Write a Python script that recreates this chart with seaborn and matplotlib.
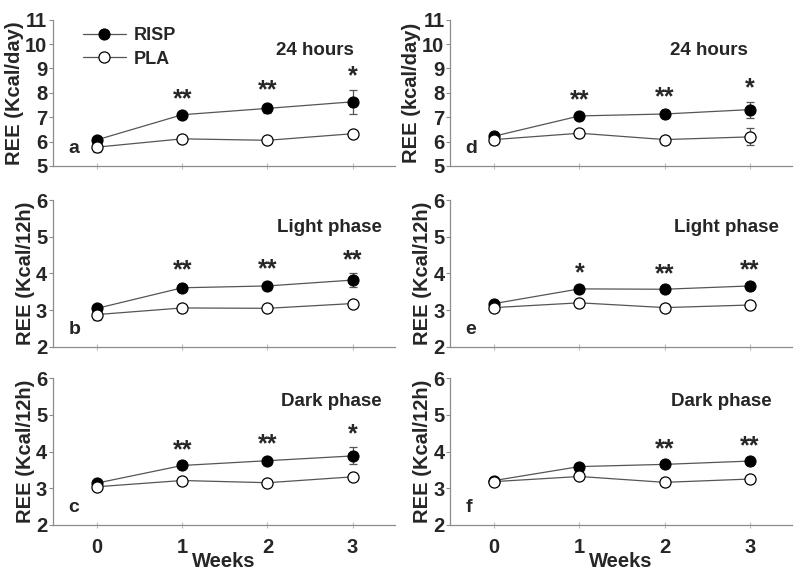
import numpy as np
import pandas as pd
import matplotlib
matplotlib.use("Agg")
import matplotlib.pyplot as plt
import seaborn as sns

# Data
weeks = [0, 1, 2, 3]

a_risp = [6.07, 7.10, 7.36, 7.63]
a_risp_err = [0.10, 0.10, 0.20, 0.48]
a_pla = [5.77, 6.11, 6.05, 6.32]
a_pla_err = [0.22, 0.08, 0.08, 0.08]
a_stars = ["", "**", "**", "*"]

b_risp = [3.05, 3.61, 3.66, 3.82]
b_risp_err = [0.05, 0.10, 0.10, 0.18]
b_pla = [2.88, 3.06, 3.05, 3.18]
b_pla_err = [0.14, 0.05, 0.05, 0.05]
b_stars = ["", "**", "**", "**"]

c_risp = [3.14, 3.62, 3.75, 3.88]
c_risp_err = [0.05, 0.05, 0.07, 0.23]
c_pla = [3.04, 3.21, 3.15, 3.31]
c_pla_err = [0.05, 0.05, 0.05, 0.05]
c_stars = ["", "**", "**", "*"]

d_risp = [6.22, 7.05, 7.13, 7.31]
d_risp_err = [0.10, 0.10, 0.15, 0.33]
d_pla = [6.08, 6.34, 6.08, 6.19]
d_pla_err = [0.10, 0.10, 0.10, 0.35]
d_stars = ["", "**", "**", "*"]

e_risp = [3.18, 3.58, 3.57, 3.66]
e_risp_err = [0.05, 0.05, 0.05, 0.05]
e_pla = [3.07, 3.20, 3.07, 3.14]
e_pla_err = [0.06, 0.05, 0.05, 0.05]
e_stars = ["", "*", "**", "**"]

f_risp = [3.21, 3.59, 3.65, 3.74]
f_risp_err = [0.05, 0.05, 0.05, 0.05]
f_pla = [3.18, 3.32, 3.16, 3.25]
f_pla_err = [0.05, 0.05, 0.05, 0.05]
f_stars = ["", "", "**", "**"]

panels = [
    # letter, risp, risp_err, pla, pla_err, stars, title, ylabel, ylim, col, row
    ("a", a_risp, a_risp_err, a_pla, a_pla_err, a_stars, "24 hours", "REE (Kcal/day)", (5, 11), 0, 0),
    ("b", b_risp, b_risp_err, b_pla, b_pla_err, b_stars, "Light phase", "REE (Kcal/12h)", (2, 6), 0, 1),
    ("c", c_risp, c_risp_err, c_pla, c_pla_err, c_stars, "Dark phase", "REE (Kcal/12h)", (2, 6), 0, 2),
    ("d", d_risp, d_risp_err, d_pla, d_pla_err, d_stars, "24 hours", "REE (kcal/day)", (5, 11), 1, 0),
    ("e", e_risp, e_risp_err, e_pla, e_pla_err, e_stars, "Light phase", "REE (Kcal/12h)", (2, 6), 1, 1),
    ("f", f_risp, f_risp_err, f_pla, f_pla_err, f_stars, "Dark phase", "REE (Kcal/12h)", (2, 6), 1, 2),
]

sns.set_style("white")
plt.rcParams['font.family'] = ['Liberation Sans', 'DejaVu Sans']
plt.rcParams['font.weight'] = 'bold'

fig = plt.figure(figsize=(8, 5.8), dpi=100)

col_x = [(0.066, 0.428), (0.5625, 0.428)]
row_y = [(0.714, 0.252), (0.402, 0.253), (0.095, 0.253)]
title_x = {(0, 0): 0.88, (0, 1): 0.96, (0, 2): 0.96, (1, 0): 0.87, (1, 1): 0.96, (1, 2): 0.94}
title_y = {0: 0.79, 1: 0.81, 2: 0.84}

spine_col = "#8c8c8c"
line_col = "#555555"

for letter, risp, risp_err, pla, pla_err, stars, title, ylabel, ylim, col, row in panels:
    x0, w = col_x[col]
    y0, h = row_y[row]
    ax = fig.add_axes([x0, y0, w, h])

    df = pd.DataFrame({"week": weeks, "RISP": risp, "PLA": pla})

    ax.errorbar(weeks, risp, yerr=risp_err, fmt="none", ecolor=line_col,
                elinewidth=0.9, capsize=3, capthick=0.9, zorder=2)
    ax.errorbar(weeks, pla, yerr=pla_err, fmt="none", ecolor=line_col,
                elinewidth=0.9, capsize=3, capthick=0.9, zorder=2)
    sns.lineplot(data=df, x="week", y="RISP", ax=ax, color=line_col, lw=0.9,
                 marker="o", markersize=8, markerfacecolor="black",
                 markeredgecolor="black", label="RISP", zorder=3)
    sns.lineplot(data=df, x="week", y="PLA", ax=ax, color=line_col, lw=0.9,
                 marker="o", markersize=8, markerfacecolor="white",
                 markeredgecolor="black", markeredgewidth=0.9, label="PLA", zorder=4)

    for xi, (m, e, s) in enumerate(zip(risp, risp_err, stars)):
        if s:
            ax.annotate(s, (weeks[xi], m + e), xytext=(0, 1), textcoords="offset points",
                        ha="center", va="bottom", fontsize=18, fontweight="bold")

    ax.set_xlim(-0.52, 3.5)
    ax.set_ylim(*ylim)
    ax.set_yticks(np.arange(ylim[0], ylim[1] + 1))
    ax.set_xticks(weeks)
    ax.tick_params(axis="y", direction="out", length=3, color=spine_col,
                   labelsize=14.5, pad=1, left=True)
    ax.tick_params(axis="x", direction="inout", length=5, color="#bbbbbb",
                   labelsize=14.5, bottom=True, width=0.8, pad=7)
    for lab in ax.get_yticklabels() + ax.get_xticklabels():
        lab.set_fontweight("bold")

    sns.despine(ax=ax)
    for sp in ("left", "bottom"):
        ax.spines[sp].set_color(spine_col)
        ax.spines[sp].set_linewidth(0.9)

    ax.set_ylabel(ylabel, fontsize=14.5, fontweight="bold", labelpad=1)
    if row == 2:
        ax.set_xlabel("Weeks", fontsize=14.5, fontweight="bold", labelpad=-4)
    else:
        ax.set_xlabel("")
        ax.set_xticklabels([])

    ax.text(title_x[(col, row)], title_y[row], title, transform=ax.transAxes,
            ha="right", va="center", fontsize=13.5, fontweight="bold")
    ax.text(0.045, 0.12, letter, transform=ax.transAxes, ha="left", va="center",
            fontsize=14, fontweight="bold")

    if letter == "a":
        ax.legend(loc="upper left", bbox_to_anchor=(0.04, 1.06), frameon=False,
                  handlelength=2.4, handletextpad=0.4, labelspacing=0.35,
                  prop={"weight": "bold", "size": 13})
    else:
        leg = ax.get_legend()
        if leg is not None:
            leg.remove()

fig.savefig("out.png", dpi=100)
